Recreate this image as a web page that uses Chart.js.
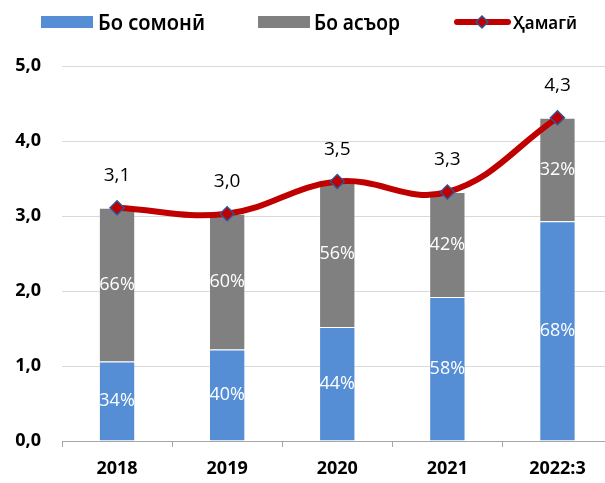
<!DOCTYPE html>
<html>
<head>
<meta charset="utf-8">
<script src="https://cdn.jsdelivr.net/npm/chart.js@4/dist/chart.umd.min.js"></script>
<style>
  html, body { margin: 0; padding: 0; background: #fff; overflow: hidden; }
  #wrap { width: 621px; height: 483px; position: relative; }
</style>
</head>
<body>
<div id="wrap"><canvas id="c" width="621" height="483"></canvas></div>
<script>
// ---- Data ----
const categories = ['2018', '2019', '2020', '2021', '2022:3'];
const somoni = [1.06, 1.22, 1.52, 1.92, 2.93];      // Бо сомонӣ
const foreign = [2.05, 1.81, 1.94, 1.40, 1.38];     // Бо асъор
const total = [3.11, 3.03, 3.46, 3.32, 4.31];       // Ҳамагӣ
const somoniPct = ['34%', '40%', '44%', '58%', '68%'];
const foreignPct = ['66%', '60%', '56%', '42%', '32%'];
const totalLabels = ['3,1', '3,0', '3,5', '3,3', '4,3'];
const seriesNames = ['Бо сомонӣ', 'Бо асъор', 'Ҳамагӣ'];
const yTicks = [0, 1, 2, 3, 4, 5];

const BLUE = '#558ED5', GRAY = '#808080', RED = '#C00000', NAVY = '#2F5597';
const FONT = '"Open Sans", "Noto Sans", sans-serif';
const LFONT = '"Noto Sans", "Open Sans", sans-serif';

function fitText(ctx, text, x, y, font, targetW) {
  ctx.save();
  ctx.font = font;
  const w = ctx.measureText(text).width;
  const sx = targetW / w;
  ctx.translate(x, y);
  ctx.scale(sx, 1);
  ctx.fillText(text, 0, 0);
  ctx.restore();
}

const labelPlugin = {
  id: 'labels',
  afterDatasetsDraw(chart) {
    const ctx = chart.ctx;
    ctx.save();
    ctx.textAlign = 'center';
    ctx.textBaseline = 'middle';
    [[0, somoniPct], [1, foreignPct]].forEach(([di, texts]) => {
      const meta = chart.getDatasetMeta(di);
      meta.data.forEach((bar, i) => {
        const yc = (bar.y + bar.base) / 2;
        ctx.save();
        ctx.beginPath();
        ctx.rect(bar.x - bar.width / 2, Math.min(bar.y, bar.base), bar.width, Math.abs(bar.base - bar.y));
        ctx.clip();
        ctx.fillStyle = '#ffffff';
        ctx.font = '18px ' + FONT;
        ctx.fillText(texts[i], bar.x, yc);
        ctx.restore();
      });
    });
    const lm = chart.getDatasetMeta(2);
    ctx.fillStyle = '#000000';
    ctx.font = '500 19px ' + FONT;
    lm.data.forEach((pt, i) => {
      ctx.fillText(totalLabels[i], pt.x, pt.y - 32);
    });
    ctx.restore();
  },
  afterDraw(chart) {
    const ctx = chart.ctx;
    ctx.save();
    ctx.textBaseline = 'alphabetic';
    ctx.textAlign = 'left';
    const y = 22;
    ctx.fillStyle = BLUE;
    ctx.fillRect(41, y - 6, 52, 12);
    ctx.fillStyle = GRAY;
    ctx.fillRect(258, y - 6, 52, 12);
    ctx.strokeStyle = RED;
    ctx.lineWidth = 6;
    ctx.lineCap = 'round';
    ctx.beginPath();
    ctx.moveTo(457, y);
    ctx.lineTo(508, y);
    ctx.stroke();
    ctx.beginPath();
    ctx.moveTo(482, y - 6); ctx.lineTo(488, y); ctx.lineTo(482, y + 6); ctx.lineTo(476, y); ctx.closePath();
    ctx.fillStyle = RED; ctx.fill();
    ctx.lineWidth = 1.5; ctx.strokeStyle = NAVY; ctx.stroke();
    ctx.fillStyle = '#000';
    fitText(ctx, seriesNames[0], 98, 30, '600 22px ' + LFONT, 107);
    fitText(ctx, seriesNames[1], 314, 30, '600 22px ' + LFONT, 86);
    fitText(ctx, seriesNames[2], 513, 29, '600 18px ' + LFONT, 64);
    ctx.restore();
  }
};

new Chart(document.getElementById('c'), {
  data: {
    labels: categories,
    datasets: [
      { type: 'bar', label: seriesNames[0], data: somoni, backgroundColor: BLUE, borderColor: 'rgba(255,255,255,0.35)', borderWidth: 1, order: 1, stack: 's' },
      { type: 'bar', label: seriesNames[1], data: foreign, backgroundColor: GRAY, borderColor: 'rgba(255,255,255,0.35)', borderWidth: 1, order: 1, stack: 's' },
      { type: 'line', label: seriesNames[2], data: total, borderColor: RED, borderWidth: 6, tension: 0.4,
        pointStyle: 'rectRot', pointRadius: 7, pointBackgroundColor: RED, pointBorderColor: NAVY, pointBorderWidth: 1.5,
        order: 0, fill: false }
    ]
  },
  options: {
    responsive: false,
    animation: false,
    layout: { padding: { top: 66, right: 0, left: 0, bottom: 0 } },
    plugins: { legend: { display: false }, tooltip: { enabled: false } },
    datasets: { bar: { barPercentage: 0.33, categoryPercentage: 1 } },
    scales: {
      x: {
        stacked: true,
        offset: true,
        grid: { display: true, offset: true, drawOnChartArea: false, drawTicks: true, tickLength: 6, color: '#a6a6a6' },
        border: { display: true, color: '#a6a6a6', width: 1 },
        ticks: { color: '#000', font: { family: FONT, size: 18, weight: '700' }, padding: 11 },
        afterFit(s) { s.height = 42; }
      },
      y: {
        stacked: true,
        min: 0, max: 5,
        afterBuildTicks(s) { s.ticks = yTicks.map(v => ({ value: v })); },
        grid: { color: '#d9d9d9', lineWidth: 1, drawTicks: false },
        border: { display: false },
        ticks: { color: '#000', font: { family: FONT, size: 18, weight: '700' }, padding: 21,
          callback: v => Number(v).toFixed(1).replace('.', ',') },
        afterFit(s) { s.width = 62; }
      }
    }
  },
  plugins: [labelPlugin]
});
</script>
</body>
</html>
